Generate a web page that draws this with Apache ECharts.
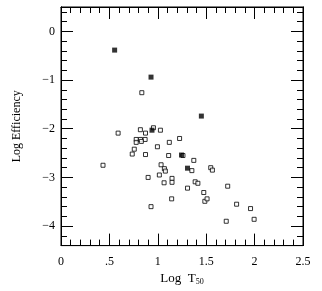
<!DOCTYPE html>
<html><head><meta charset="utf-8">
<script src="https://cdn.jsdelivr.net/npm/echarts@6/dist/echarts.min.js"></script>
<style>html,body{margin:0;padding:0;background:#fff}#c{width:322px;height:291px}</style>
</head><body><div id="c"></div>
<script>
// Open squares: log T50 and log efficiency
const openX = [0.835,0.59,0.82,0.873,1.027,0.955,1.225,0.777,0.821,0.869,0.777,0.83,0.996,1.119,0.757,0.736,0.873,1.112,0.434,1.034,1.068,1.078,0.90,1.016,1.147,1.147,1.065,1.143,0.93,1.372,1.352,1.547,1.564,1.307,1.386,1.414,1.722,1.475,1.486,1.509,1.814,1.958,1.707,1.995,1.26];
const openY = [-1.26,-2.09,-2.02,-2.09,-2.03,-1.98,-2.2,-2.22,-2.22,-2.22,-2.28,-2.26,-2.37,-2.28,-2.42,-2.52,-2.53,-2.55,-2.75,-2.74,-2.82,-2.87,-3.0,-2.95,-3.02,-3.10,-3.11,-3.44,-3.60,-2.65,-2.86,-2.80,-2.85,-3.22,-3.09,-3.12,-3.18,-3.31,-3.49,-3.44,-3.55,-3.64,-3.90,-3.86,-2.55];
// Filled squares
const filledX = [0.554,0.93,1.45,0.94,1.245,1.307];
const filledY = [-0.385,-0.94,-1.74,-2.03,-2.54,-2.81];
// Axis ticks
const xTickLabels = {0:'0',0.5:'.5',1:'1',1.5:'1.5',2:'2',2.5:'2.5'};
const yMajorTicks = [0,-1,-2,-3,-4];

const font = 'Liberation Serif';
const chart = echarts.init(document.getElementById('c'));
const xCommon = {type:'value',min:0,max:2.5,interval:0.5,splitLine:{show:false},
  axisLine:{show:true,onZero:false,lineStyle:{color:'#000',width:1}},
  axisTick:{show:true,inside:true,length:12,lineStyle:{color:'#000',width:1}},
  minorTick:{show:true,splitNumber:5,length:6,lineStyle:{color:'#000',width:1}}};
const yCommon = {type:'value',min:-4.4,max:0.5,splitLine:{show:false},
  axisLine:{show:true,onZero:false,lineStyle:{color:'#000',width:1}}};
chart.setOption({
  animation:false,
  grid:{left:61,right:19,top:7,bottom:44,show:true,borderColor:'#000',borderWidth:1},
  xAxis:[
    Object.assign({},xCommon,{position:'bottom',
      axisLabel:{show:true,margin:10,color:'#000',fontFamily:font,fontSize:12,formatter:v=>xTickLabels[v]!==undefined?xTickLabels[v]:''},
      name:'{a|Log  T}{b|50}',nameLocation:'middle',nameGap:26,
      nameTextStyle:{rich:{a:{fontFamily:font,fontSize:13,color:'#000'},b:{fontFamily:font,fontSize:8,color:'#000',padding:[6,0,0,0]}}}}),
    Object.assign({},xCommon,{position:'top',axisLabel:{show:false}})
  ],
  yAxis:[
    Object.assign({},yCommon,{position:'left',
      axisTick:{show:true,inside:true,length:12,customValues:yMajorTicks,lineStyle:{color:'#000'}},
      axisLabel:{show:true,customValues:yMajorTicks,margin:6,color:'#000',fontFamily:font,fontSize:12,formatter:v=>v<0?'\u2212'+Math.abs(v):String(v)},
      name:'Log Efficiency',nameLocation:'middle',nameGap:38,nameRotate:90,
      nameTextStyle:{fontFamily:font,fontSize:12,color:'#000'}}),
    Object.assign({},yCommon,{position:'left',interval:0.2,
      axisTick:{show:true,inside:true,length:6,lineStyle:{color:'#000'}},axisLabel:{show:false}}),
    Object.assign({},yCommon,{position:'right',
      axisTick:{show:true,inside:true,length:12,customValues:yMajorTicks,lineStyle:{color:'#000'}},axisLabel:{show:false}}),
    Object.assign({},yCommon,{position:'right',interval:0.2,
      axisTick:{show:true,inside:true,length:6,lineStyle:{color:'#000'}},axisLabel:{show:false}})
  ],
  series:[
    {type:'scatter',xAxisIndex:0,yAxisIndex:0,symbol:'rect',symbolSize:4,
      itemStyle:{color:'#fff',borderColor:'#000',borderWidth:1},
      data:openX.map((x,i)=>[x,openY[i]])},
    {type:'scatter',xAxisIndex:0,yAxisIndex:0,symbol:'rect',symbolSize:5,
      itemStyle:{color:'#000'},
      data:filledX.map((x,i)=>[x,filledY[i]])}
  ]
});
</script></body></html>
